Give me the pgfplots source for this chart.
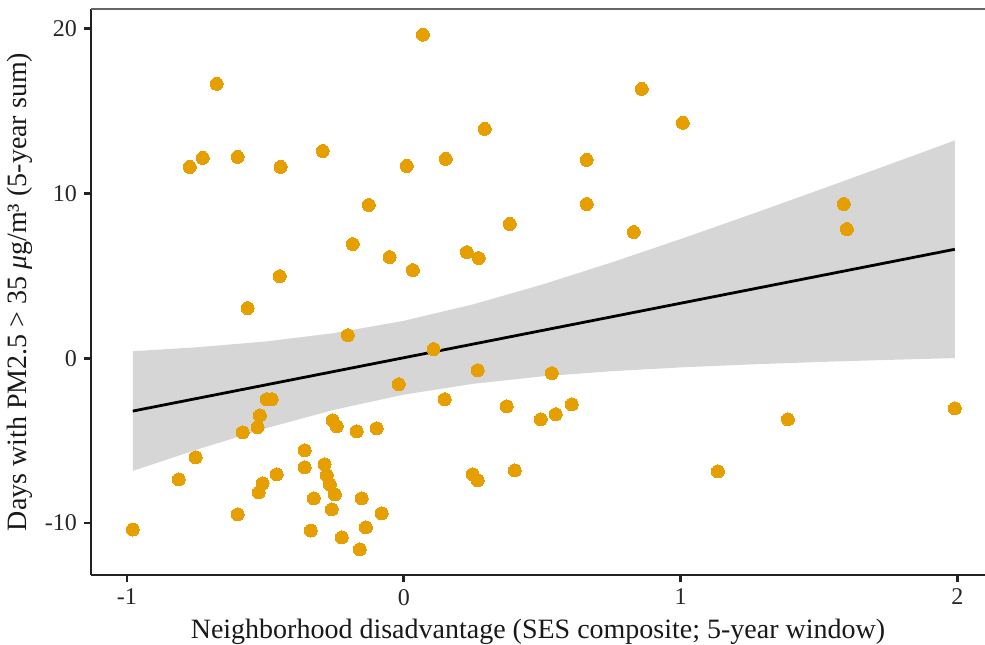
\documentclass[border=0pt]{standalone}
\usepackage{fontspec}
\setmainfont{Liberation Serif}
\usepackage{pgfplots}
\usepackage{pgfplotstable}
\pgfplotsset{compat=1.18}

\definecolor{ptorange}{HTML}{E69F00}
\definecolor{bandgrey}{HTML}{999999}
\definecolor{axisgrey}{HTML}{222222}

% SES composite vs. days above 35 ug/m3
\pgfplotstableread{
x y
-0.979 -10.40
-0.813 -7.36
-0.752 -6.02
-0.773 11.61
-0.726 12.16
-0.676 16.66
-0.600 12.22
-0.600 -9.48
-0.582 -4.50
-0.564 3.04
-0.528 -4.19
-0.520 -3.47
-0.495 -2.49
-0.477 -2.49
-0.524 -8.15
-0.510 -7.60
-0.459 -7.05
-0.448 4.98
-0.445 11.61
-0.358 -5.59
-0.358 -6.63
-0.325 -8.51
-0.336 -10.46
-0.293 12.58
-0.286 -6.44
-0.278 -7.11
-0.267 -7.66
-0.249 -8.27
-0.260 -9.18
-0.257 -3.77
-0.242 -4.13
-0.224 -10.88
-0.202 1.40
-0.184 6.93
-0.170 -4.44
-0.159 -11.61
-0.152 -8.51
-0.137 -10.27
-0.126 9.30
-0.098 -4.26
-0.080 -9.42
-0.051 6.14
-0.018 -1.58
0.011 11.67
0.033 5.35
0.069 19.64
0.108 0.55
0.148 -2.49
0.152 12.10
0.228 6.44
0.271 6.08
0.249 -7.05
0.267 -7.42
0.267 -0.73
0.293 13.92
0.372 -2.92
0.383 8.15
0.401 -6.81
0.495 -3.71
0.535 -0.91
0.549 -3.40
0.607 -2.80
0.661 12.04
0.661 9.36
0.831 7.66
0.860 16.35
1.008 14.29
1.135 -6.87
1.388 -3.71
1.590 9.36
1.601 7.84
1.991 -3.04
}\sesdata

% Linear fit
\pgfplotstableread{
x fit
-0.979 -3.208
1.991 6.614
}\fitdata

% 95% confidence band: upper edge left to right, lower edge right to left
\pgfplotstableread{
x y
-0.979 0.424
-0.750 0.661
-0.500 1.014
-0.250 1.529
0.000 2.272
0.250 3.268
0.500 4.470
0.750 5.809
1.000 7.232
1.250 8.706
1.500 10.211
1.750 11.736
1.991 13.221
1.991 0.007
1.750 -0.102
1.500 -0.229
1.250 -0.378
1.000 -0.558
0.750 -0.789
0.500 -1.102
0.250 -1.554
0.000 -2.212
-0.250 -3.123
-0.500 -4.262
-0.750 -5.561
-0.979 -6.840
}\banddata

\begin{document}
\begin{tikzpicture}
\begin{axis}[
  scale only axis,
  width=447pt, height=283pt,
  xmin=-1.13, xmax=2.10,
  ymin=-13.16, ymax=21.2,
  axis x line*=bottom, axis y line*=left,
  axis line style={-, line width=1.3pt, axisgrey},
  xtick={-1,0,1,2}, xticklabels={-1,0,1,2},
  ytick={-10,0,10,20}, yticklabels={-10,0,10,20},
  tick style={line width=1.3pt, axisgrey},
  tick align=outside,
  major tick length=3.5pt,
  minor tick num=0,
  ticklabel style={font=\fontsize{12}{14}\selectfont, text=black!85},
  /pgf/number format/assume math mode=true,
  xlabel={Neighborhood disadvantage (SES composite; 5-year window)},
  ylabel={Days with PM2.5 > 35 \textit{μ}g/m³ (5-year sum)},
  every axis x label/.style={at={([yshift=-31.5pt]axis description cs:0.5,0)},
    anchor=base, font=\fontsize{14}{16}\selectfont, text=black!90},
  every axis y label/.style={at={([xshift=-32pt]axis description cs:0,0.5)},
    anchor=base, rotate=90, font=\fontsize{14}{16}\selectfont, text=black!90},
]
\coordinate (bbsw) at (rel axis cs:0,0);
\coordinate (bbne) at (rel axis cs:1,1);
\draw[line width=0.9pt, black!60] (rel axis cs:0,1) -- (rel axis cs:1,1);

\addplot[ptorange, only marks, mark=*, mark size=3.25pt,
  mark options={fill=ptorange, draw=ptorange, line width=0pt}] table[x=x, y=y] {\sesdata};

\addplot[draw=none, fill=bandgrey, fill opacity=0.4] table[x=x, y=y] {\banddata} -- cycle;

\addplot[line width=1.4pt, black] table[x=x, y=fit] {\fitdata};
\end{axis}
\pgfresetboundingbox
\path[use as bounding box] ([shift={(-45.5pt,-34.5pt)}]bbsw) rectangle ([shift={(0pt,4.5pt)}]bbne);
\end{tikzpicture}
\end{document}
